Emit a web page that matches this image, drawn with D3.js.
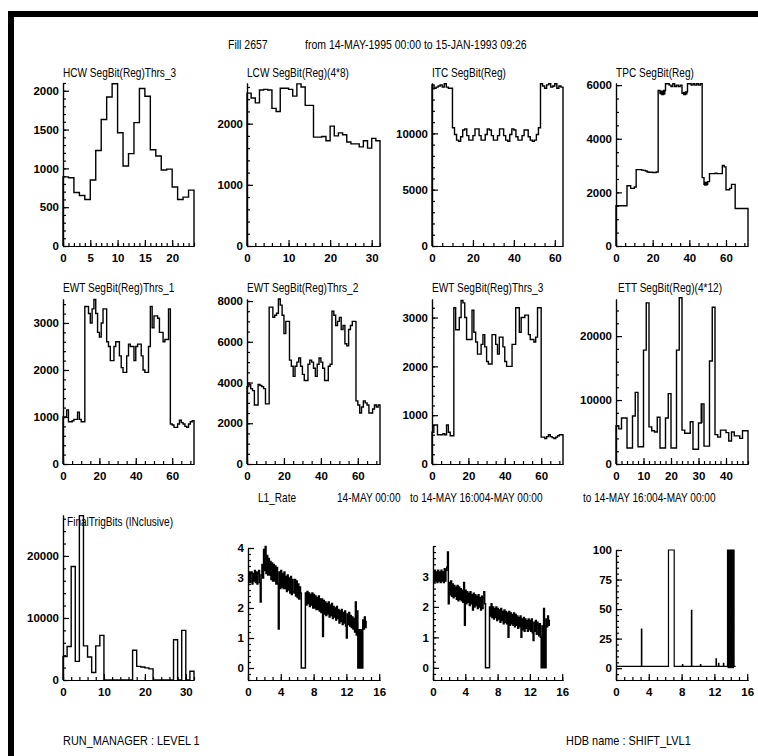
<!DOCTYPE html>
<html><head><meta charset="utf-8">
<script src="https://cdnjs.cloudflare.com/ajax/libs/d3/7.8.5/d3.min.js"></script>
<style>
body{margin:0;background:#fff;}
svg{display:block;}
.t{font-family:"Liberation Sans",Arial,sans-serif;fill:#000;}
.domain,.tick line{stroke:#000;stroke-width:1.2;}
</style></head><body><svg id="c" width="758" height="756"></svg>
<script>
// ---------------- DATA ----------------
const hcwBins=[890,880,690,650,600,850,1230,1630,1920,2090,1460,1030,1190,1590,2030,1930,1240,1160,980,990,760,600,630,720];
const lcwBins=[2500,2420,2340,2550,2560,2550,2250,2200,2580,2580,2560,2450,2650,2600,2300,2300,1780,1780,1790,1720,1960,1800,1850,1820,1700,1670,1670,1620,1720,1600,1760,1720];
const itcBins=[14300,14000,14100,14200,14300,14100,14400,14100,14000,14000,
 10500,9900,9400,9300,9700,10300,10400,9800,9400,9400,9800,10400,10400,9800,9400,9400,9900,10400,10300,9800,9400,9400,9800,10400,10400,9800,9400,9300,9900,10400,10300,9700,9400,9400,9800,10300,10300,9700,9400,9300,9400,9900,10500,
 14400,14200,14000,14300,14400,14100,14200,14400,14000,14200,14100];
const tpcBins=[1500,1500,1500,1500,1500,1500,2250,2250,2150,2150,2200,2850,2850,2850,2830,2820,2800,2760,2750,2750,2740,2740,2760,
 5800,5700,5650,5800,6050,6050,6000,5950,6050,5950,6000,5950,6000,5700,5650,5750,6050,6050,6000,6050,6000,6050,6000,6050,
 2550,2300,2300,2400,2700,2700,2700,2720,2700,2700,2700,3000,2950,2100,2100,2150,2300,2300,1400,1400,1400,1400,1400,1400,1400];
const tpcDark=[[24,27,5650,5800],[36.5,39,5650,5750],[48,50,2250,2400]];
const ewt1Bins=[1000,1000,1150,900,900,920,950,950,1100,950,900,900,
 3350,3350,3200,3000,3300,3500,3200,2800,2700,3000,3300,3300,2600,2500,2200,2200,2500,2600,2600,2300,2050,1950,1950,2300,
 2550,2500,2500,2200,2500,2550,2550,2300,2000,1950,1950,2500,3350,2900,3150,3150,3100,2800,2800,2600,2650,2650,3300,
 850,830,780,780,850,930,880,850,800,780,850,900,920];
const ewt2Bins=[3800,3900,3700,3600,2900,2900,3900,3850,3800,3700,2950,2950,
 7700,7700,7200,7300,7400,8100,7800,7300,6400,7000,7000,5100,4800,4300,4800,5000,5200,4800,4400,4100,4100,4900,5100,5000,
 4700,4300,4900,5200,5000,4700,4100,4100,4800,4900,7500,7300,6800,7000,7200,6600,6800,5900,5800,6600,6800,7000,7000,
 3100,2900,2500,2800,3100,3000,2900,2500,2500,2700,2900,2800,2900];
const ewt3Bins=[650,800,800,600,600,600,620,600,800,650,580,580,
 3200,2750,2750,3000,3350,3300,3000,2550,2550,2550,3150,2700,2500,2250,2250,2450,2650,2400,2100,2050,2050,2650,2650,2450,
 2250,2600,2600,2400,2100,2000,2000,2000,2450,2450,3200,3200,2700,3000,3000,3050,3050,2650,2550,2550,2500,2600,3200,3200,
 550,550,520,560,600,560,540,520,550,580,600,600];
const ettBins=[6000,5500,7200,7200,2500,2500,7500,11200,2700,2700,17800,25200,
 5800,5200,5000,7300,2500,2500,7200,11000,2500,2500,17800,26000,
 5300,4800,4800,6600,2300,2300,6400,9400,2800,2800,16100,24500,
 4600,4200,5300,5300,4900,3600,5000,4400,4400,4000,5200,5200];
const ettDark=[[30.9,31.5,6400,9400]];
const finalTrigBins=[3800,5400,18300,3000,26500,5500,3700,1200,5500,7200,0,0,0,0,0,0,0,4800,2200,2100,1950,1800,0,0,0,0,0,6500,0,8000,0,1400];

// L1 rate, one value every 0.1 h from 00:00
const l1Step=0.1;
const l1RateA=[3.05,3.2,2.85,3.15,3.2,2.8,3.15,2.9,3.25,2.85,
 3.2,2.8,3.15,3.25,2.85,2.2,3.1,3.45,3.0,3.95,
 3.25,4.05,3.15,3.75,3.1,3.65,3.1,3.55,2.95,3.5,
 2.9,3.45,2.9,3.4,2.8,3.35,2.8,1.3,3.2,2.65,
 3.25,2.7,3.15,2.65,3.2,2.65,3.05,2.55,3.1,2.6,
 3.0,2.5,3.05,2.45,2.95,2.55,2.5,2.95,2.4,2.9,
 2.35,2.8,2.3,2.7,2.5,0,0,0,0,0,
 2.5,2.1,2.55,2.15,2.5,2.05,2.45,2.1,2.5,2.0,
 2.45,2.0,2.4,1.95,2.35,1.95,2.4,1.9,2.3,1.85,
 2.3,1.05,2.25,1.8,2.2,1.75,2.15,1.8,2.2,1.7,
 2.1,1.75,2.15,1.65,2.05,1.7,2.0,1.6,2.05,1.65,
 1.95,1.5,1.9,1.55,1.95,1.45,1.85,1.5,1.9,1.4,
 1.0,1.8,1.45,1.85,1.4,1.75,1.35,1.7,1.3,1.65,
 1.2,2.2,1.1,1.9,0,0,0,0,0,0,
 1.6,1.3,1.7,1.35,1.55];
const l1BlockA=[13.4,14.0,1.3];
const l1RateB=[3.05,2.8,3.2,2.85,3.15,2.8,3.2,2.85,3.15,2.8,
 3.2,2.85,3.15,2.8,3.25,2.85,3.2,3.3,3.8,2.1,
 2.8,2.4,2.85,2.35,2.75,2.3,2.7,2.35,2.65,2.25,
 2.7,2.2,2.65,2.25,2.6,2.2,2.55,2.15,2.8,1.4,
 2.55,2.1,2.5,2.15,2.45,2.05,2.5,2.1,2.4,1.9,
 2.45,2.0,2.4,2.05,2.35,1.95,2.4,2.0,2.3,1.9,
 2.35,1.95,2.3,2.5,2.1,0,0,0,0,0,
 2.0,1.7,2.1,1.65,2.0,1.6,1.95,1.65,2.0,1.55,
 1.95,1.6,1.9,1.5,1.95,1.55,1.85,1.45,1.9,1.5,
 1.85,1.45,1.8,1.0,1.85,1.4,1.8,1.45,1.75,1.4,
 1.8,1.35,1.75,1.4,1.7,1.3,1.65,1.35,1.7,1.0,
 1.6,1.25,1.65,1.2,1.6,1.3,1.55,1.2,1.6,1.25,
 1.55,1.2,1.6,1.15,0.9,1.5,1.2,1.55,1.1,1.5,
 1.4,1.05,1.45,1.0,0,0,0,1.95,0,0,
 1.6,1.35,1.7,1.4,1.55];
const l1BlockB=[13.4,14.0,1.4];
// dead-time %, change points [hour, value]
const deadSteps=[[0,1.5],[3.1,33],[3.15,1.5],[6.4,100],[7.1,1.5],[8.1,3],[8.15,1.5],[9.2,49],[9.25,1.5],[10.3,3],[10.35,1.5],[12.2,8],[12.25,1.5],[12.5,4],[12.55,1.5],[13.1,4],[13.15,1.5],[13.6,100],[14.4,1.5],[14.6,1.5]];
const deadBlock=[13.6,14.4,100];

// tick labels
const hcwXTicks=[0,5,10,15,20], hcwYTicks=[0,500,1000,1500,2000];
const lcwXTicks=[0,10,20,30], lcwYTicks=[0,1000,2000];
const itcXTicks=[0,20,40,60], itcYTicks=[0,5000,10000];
const tpcXTicks=[0,20,40,60], tpcYTicks=[0,2000,4000,6000];
const ewtXTicks=[0,20,40,60];
const ewt1YTicks=[0,1000,2000,3000], ewt2YTicks=[0,2000,4000,6000,8000], ewt3YTicks=[0,1000,2000,3000];
const ettXTicks=[0,10,20,30,40], ettYTicks=[0,10000,20000];
const ftbXTicks=[0,10,20,30], ftbYTicks=[0,10000,20000];
const hourTicks=[0,4,8,12,16];
const l1AYTicks=[0,1,2,3,4], l1BYTicks=[0,1,2,3];
const deadYTicks=[0,25,50,75,100];

// ---------------- LAYOUT ----------------
const svg=d3.select('#c');
svg.append('rect').attr('width',758).attr('height',756).attr('fill','#fff');
// frame
svg.append('rect').attr('x',8).attr('y',11).attr('width',750).attr('height',6).attr('fill','#000');
svg.append('rect').attr('x',8).attr('y',11).attr('width',6).attr('height',745).attr('fill','#000');

const SX=0.84;
function txt(x,y,s,size){
  svg.append('text').attr('class','t').attr('transform',`translate(${x},${y}) scale(${SX},1)`)
    .attr('font-size',size).text(s);
}
txt(228,49,'Fill  2657',12.5);
txt(305,49,'from 14-MAY-1995 00:00 to 15-JAN-1993 09:26',12.5);
txt(63,745,'RUN_MANAGER : LEVEL 1',13);
txt(566,745,'HDB name : SHIFT_LVL1',13);

const R1={y0:246,top:83}, R2={y0:464,top:299}, R3={y0:680};
const panels=[
 {title:'HCW SegBit(Reg)Thrs_3',tx:63,ty:77,bins:hcwBins,x0:63,x1:194,row:R1,ymax:2100,xt:hcwXTicks,yt:hcwYTicks,xm:1,ym:100},
 {title:'LCW SegBit(Reg)(4*8)',tx:247,ty:77,bins:lcwBins,x0:247,x1:380,row:R1,ymax:2665,xt:lcwXTicks,yt:lcwYTicks,xm:2,ym:200},
 {title:'ITC SegBit(Reg)',tx:432,ty:77,bins:itcBins,x0:432,x1:563,row:R1,ymax:14470,xt:itcXTicks,yt:itcYTicks,xm:5,ym:1000},
 {title:'TPC SegBit(Reg)',tx:616,ty:77,bins:tpcBins,dark:tpcDark,x0:616,x1:748,row:R1,ymax:6080,xt:tpcXTicks,yt:tpcYTicks,xm:5,ym:500},
 {title:'EWT SegBit(Reg)Thrs_1',tx:63,ty:292,bins:ewt1Bins,x0:63,x1:194,row:R2,ymax:3510,xt:ewtXTicks,yt:ewt1YTicks,xm:5,ym:200},
 {title:'EWT SegBit(Reg)Thrs_2',tx:247,ty:292,bins:ewt2Bins,x0:247,x1:380,row:R2,ymax:8100,xt:ewtXTicks,yt:ewt2YTicks,xm:5,ym:500},
 {title:'EWT SegBit(Reg)Thrs_3',tx:432,ty:292,bins:ewt3Bins,x0:432,x1:563,row:R2,ymax:3380,xt:ewtXTicks,yt:ewt3YTicks,xm:5,ym:200},
 {title:'ETT SegBit(Reg)(4*12)',tx:618,ty:292,bins:ettBins,dark:ettDark,x0:616,x1:748,row:R2,ymax:25800,xt:ettXTicks,yt:ettYTicks,xm:2,ym:2000},
 {title:'FinalTrigBits (INclusive)',tx:67,ty:526,bins:finalTrigBins,x0:63,x1:194,row:{y0:680,top:515},ymax:26600,xt:ftbXTicks,yt:ftbYTicks,xm:2,ym:2000}
];

function styleTicks(g){
  g.selectAll('text').attr('font-family','"Liberation Sans",Arial,sans-serif')
   .attr('font-weight','bold').attr('font-size',11.5).attr('fill','#000');
}
function axes(x,y,y0,x0,xt,yt,xm,ym,xfmt){
  const [xa,xb]=x.domain(), [ya,yb]=y.domain();
  svg.append('g').attr('transform',`translate(0,${y0})`)
    .call(d3.axisBottom(x).tickValues(d3.range(Math.ceil(xa/xm)*xm,xb+1e-9,xm)).tickSizeInner(-3).tickSizeOuter(0).tickFormat(''));
  svg.append('g').attr('transform',`translate(0,${y0})`)
    .call(d3.axisBottom(x).tickValues(xt).tickSizeInner(-6).tickSizeOuter(0).tickPadding(8).tickFormat(xfmt||(d=>d))).call(styleTicks);
  svg.append('g').attr('transform',`translate(${x0},0)`)
    .call(d3.axisLeft(y).tickValues(d3.range(Math.ceil(ya/ym)*ym,yb+1e-9,ym)).tickSizeInner(-3).tickSizeOuter(0).tickFormat(''));
  svg.append('g').attr('transform',`translate(${x0},0)`)
    .call(d3.axisLeft(y).tickValues(yt).tickSizeInner(-6).tickSizeOuter(0).tickPadding(4).tickFormat(d=>d)).call(styleTicks);
}
const stepLine=(x,y)=>d3.line().x(d=>x(d[0])).y(d=>y(d[1])).curve(d3.curveStepAfter);

panels.forEach(p=>{
  const n=p.bins.length;
  const x=d3.scaleLinear().domain([0,n]).range([p.x0,p.x1]);
  const y=d3.scaleLinear().domain([0,p.ymax]).range([p.row.y0,p.row.top]);
  axes(x,y,p.row.y0,p.x0,p.xt,p.yt,p.xm,p.ym);
  const pts=[[0,0]].concat(p.bins.map((v,i)=>[i,v]),[[n,0]]);
  svg.append('path').attr('d',stepLine(x,y)(pts)).attr('fill','none').attr('stroke','#000').attr('stroke-width',1.4);
  (p.dark||[]).forEach(d=>svg.append('rect').attr('x',x(d[0])).attr('width',x(d[1])-x(d[0]))
      .attr('y',y(d[3])).attr('height',y(d[2])-y(d[3])).attr('fill','#000'));
  txt(p.tx,p.ty,p.title,12);
});

// time series panels
txt(258,502,'L1_Rate',12);
txt(337,502,'14-MAY 00:00',12);
txt(410,502,'to 14-MAY 16:004-MAY 00:00',12);
txt(583,502,'to 14-MAY 16:004-MAY 00:00',12);

function rateSeries(vals,block,x0,x1,top,yt){
  const x=d3.scaleLinear().domain([0,16.1]).range([x0,x1]);
  const y=d3.scaleLinear().domain([-0.4,4]).range([R3.y0,top]);
  axes(x,y,R3.y0,x0,hourTicks,yt,1,0.2);
  const pts=vals.map((v,i)=>[i*l1Step,v]); pts.push([vals.length*l1Step,vals[vals.length-1]]);
  svg.append('path').attr('d',stepLine(x,y)(pts)).attr('fill','none').attr('stroke','#000').attr('stroke-width',1.5);
  svg.append('rect').attr('x',x(block[0])).attr('width',x(block[1])-x(block[0]))
    .attr('y',y(block[2])).attr('height',y(0)-y(block[2])).attr('fill','#000');
}
rateSeries(l1RateA,l1BlockA,248,380,548,l1AYTicks);
rateSeries(l1RateB,l1BlockB,433,563,546,l1BYTicks);

{
  const x=d3.scaleLinear().domain([0,16.1]).range([616,748]);
  const y=d3.scaleLinear().domain([-10,100]).range([R3.y0,550]);
  axes(x,y,R3.y0,616,hourTicks,deadYTicks,1,5);
  svg.append('path').attr('d',stepLine(x,y)(deadSteps)).attr('fill','none').attr('stroke','#000').attr('stroke-width',1.2);
  svg.append('rect').attr('x',x(deadBlock[0])).attr('width',x(deadBlock[1])-x(deadBlock[0]))
    .attr('y',y(deadBlock[2])).attr('height',y(0)-y(deadBlock[2])).attr('fill','#000');
}
</script></body></html>
